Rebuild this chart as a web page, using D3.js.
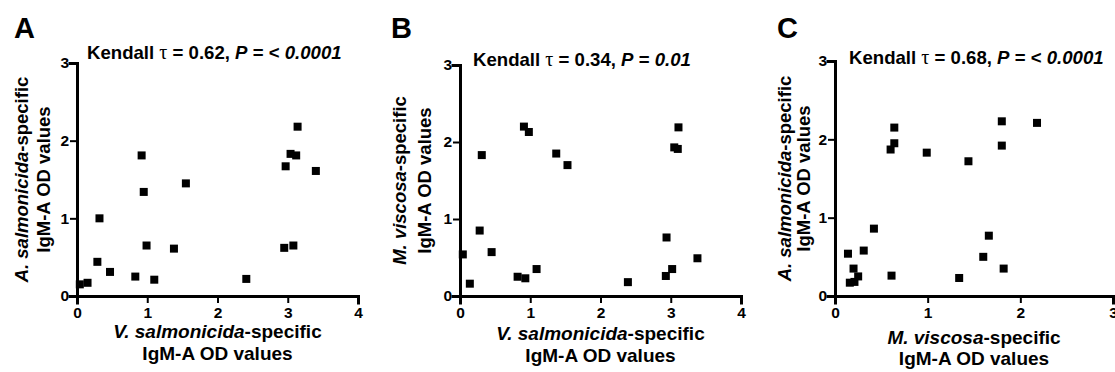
<!DOCTYPE html>
<html>
<head>
<meta charset="utf-8">
<script src="https://cdn.jsdelivr.net/npm/d3@7"></script>
<style>
  body { margin: 0; background: #fff; }
  svg { font-family: "Liberation Sans", Arial, sans-serif; }
</style>
</head>
<body>
<svg id="chart" width="1115" height="372"></svg>
<script>
// A: V. salmonicida (x) vs A. salmonicida (y)
var panelAx = [0.04, 0.15, 0.29, 0.32, 0.47, 0.83, 0.92, 0.95, 0.99, 1.10, 1.38, 1.55, 2.41, 2.95, 2.97, 3.04, 3.08, 3.12, 3.14, 3.40];
var panelAy = [0.15, 0.17, 0.44, 1.00, 0.31, 0.25, 1.81, 1.34, 0.65, 0.21, 0.61, 1.45, 0.22, 0.62, 1.67, 1.83, 0.65, 1.81, 2.18, 1.61];
// B: V. salmonicida (x) vs M. viscosa (y)
var panelBx = [0.04, 0.14, 0.28, 0.31, 0.45, 0.82, 0.91, 0.93, 0.98, 1.09, 1.37, 1.53, 2.39, 2.93, 2.94, 3.02, 3.05, 3.10, 3.11, 3.38];
var panelBy = [0.54, 0.16, 0.85, 1.83, 0.57, 0.25, 2.20, 0.23, 2.13, 0.35, 1.85, 1.70, 0.18, 0.26, 0.76, 0.35, 1.93, 1.91, 2.19, 0.49];
// C: M. viscosa (x) vs A. salmonicida (y)
var panelCx = [0.14, 0.16, 0.21, 0.20, 0.25, 0.31, 0.42, 0.60, 0.64, 0.64, 0.61, 0.99, 1.34, 1.44, 1.66, 1.60, 1.82, 1.80, 1.80, 2.18];
var panelCy = [0.54, 0.17, 0.18, 0.35, 0.25, 0.58, 0.86, 1.87, 1.95, 2.15, 0.26, 1.83, 0.23, 1.72, 0.77, 0.50, 0.35, 2.23, 1.92, 2.21];

var xTicksAB = [0, 1, 2, 3, 4];
var xTicksC = [0, 1, 2, 3];
var yTicks = [0, 1, 2, 3];

var panelLetters = ['A', 'B', 'C'];
var tauValues = ['0.62', '0.34', '0.68'];
var pPrefix = ['< ', '', '< '];
var pValues = ['0.0001', '0.01', '0.0001'];
var xSpecies = ['V. salmonicida', 'V. salmonicida', 'M. viscosa'];
var ySpecies = ['A. salmonicida', 'M. viscosa', 'A. salmonicida'];

// layout of each panel (pixels)
var layout = [
  { left: 77, right: 358, top: 63, bottom: 296, letterX: 14, titleX: 87, titleY: 59, yl1: 49, yl2: 27, xl1: 338, xl2: 360 },
  { left: 460, right: 741, top: 65, bottom: 296, letterX: 391, titleX: 473, titleY: 66, yl1: 54, yl2: 29, xl1: 340, xl2: 362 },
  { left: 835, right: 1113, top: 61, bottom: 296, letterX: 777, titleX: 849, titleY: 64, yl1: 44, yl2: 25, xl1: 344, xl2: 365 }
];

var svg = d3.select('#chart');

function drawPanel(i, xs, ys, xTicks) {
  var L = layout[i];
  var g = svg.append('g').attr('class', 'panel' + panelLetters[i]);

  var x = d3.scaleLinear().domain([0, d3.max(xTicks)]).range([L.left, L.right]);
  var y = d3.scaleLinear().domain([0, d3.max(yTicks)]).range([L.bottom, L.top]);

  var xAxis = g.append('g')
    .attr('transform', 'translate(0,' + L.bottom + ')')
    .call(d3.axisBottom(x).tickValues(xTicks).tickFormat(d3.format('d')).tickSizeOuter(0).tickSize(7).tickPadding(4));
  var yAxis = g.append('g')
    .attr('transform', 'translate(' + L.left + ',0)')
    .call(d3.axisLeft(y).tickValues(yTicks).tickFormat(d3.format('d')).tickSizeOuter(0).tickSize(7).tickPadding(1));

  [xAxis, yAxis].forEach(function(a) {
    a.select('.domain').attr('stroke', '#000').attr('stroke-width', 3).attr('stroke-linecap', 'square');
    a.selectAll('.tick line').attr('stroke', '#000').attr('stroke-width', 2);
    a.selectAll('.tick text')
      .attr('fill', '#000')
      .attr('font-size', '15.5px')
      .attr('font-weight', 'bold')
      .attr('font-family', '"Liberation Sans", Arial, sans-serif');
  });

  var pts = xs.map(function(d, k) { return { x: d, y: ys[k] }; });
  g.selectAll('.pt')
    .data(pts)
    .enter()
    .append('rect')
    .attr('class', 'pt')
    .attr('width', 8)
    .attr('height', 8)
    .attr('x', function(d) { return x(d.x) - 4; })
    .attr('y', function(d) { return y(d.y) - 4; })
    .attr('fill', '#000');

  // panel letter
  g.append('text')
    .attr('x', L.letterX)
    .attr('y', 38)
    .attr('font-size', '29px')
    .attr('font-weight', 'bold')
    .text(panelLetters[i]);

  // title
  var t = g.append('text')
    .attr('x', L.titleX)
    .attr('y', L.titleY)
    .attr('font-size', '18.6px')
    .attr('font-weight', 'bold');
  t.append('tspan').text('Kendall ');
  t.append('tspan')
    .attr('font-family', '"Liberation Serif", "DejaVu Serif", serif')
    .attr('font-weight', 'normal')
    .attr('font-size', '20px')
    .text('\u03c4');
  t.append('tspan').text(' = ' + tauValues[i] + ', ');
  t.append('tspan').attr('font-style', 'italic').text('P');
  t.append('tspan').text(' = ' + pPrefix[i]);
  t.append('tspan').attr('font-style', 'italic').text(pValues[i]);

  // x axis label
  var cx = (L.left + L.right) / 2;
  var xl = g.append('text')
    .attr('x', cx).attr('y', L.xl1)
    .attr('text-anchor', 'middle')
    .attr('font-size', '19px')
    .attr('font-weight', 'bold');
  xl.append('tspan').attr('font-style', 'italic').text(xSpecies[i]);
  xl.append('tspan').text('-specific');
  g.append('text')
    .attr('x', cx).attr('y', L.xl2)
    .attr('text-anchor', 'middle')
    .attr('font-size', '19px')
    .attr('font-weight', 'bold')
    .text('IgM-A OD values');

  // y axis label
  var cy = (L.top + L.bottom) / 2;
  var yl = g.append('text')
    .attr('transform', 'translate(' + (L.left - L.yl1) + ',' + cy + ') rotate(-90)')
    .attr('text-anchor', 'middle')
    .attr('font-size', '18.5px')
    .attr('font-weight', 'bold');
  yl.append('tspan').attr('font-style', 'italic').text(ySpecies[i]);
  yl.append('tspan').text('-specific');
  g.append('text')
    .attr('transform', 'translate(' + (L.left - L.yl2) + ',' + cy + ') rotate(-90)')
    .attr('text-anchor', 'middle')
    .attr('font-size', '18.5px')
    .attr('font-weight', 'bold')
    .text('IgM-A OD values');
}

drawPanel(0, panelAx, panelAy, xTicksAB);
drawPanel(1, panelBx, panelBy, xTicksAB);
drawPanel(2, panelCx, panelCy, xTicksC);
</script>
</body>
</html>
